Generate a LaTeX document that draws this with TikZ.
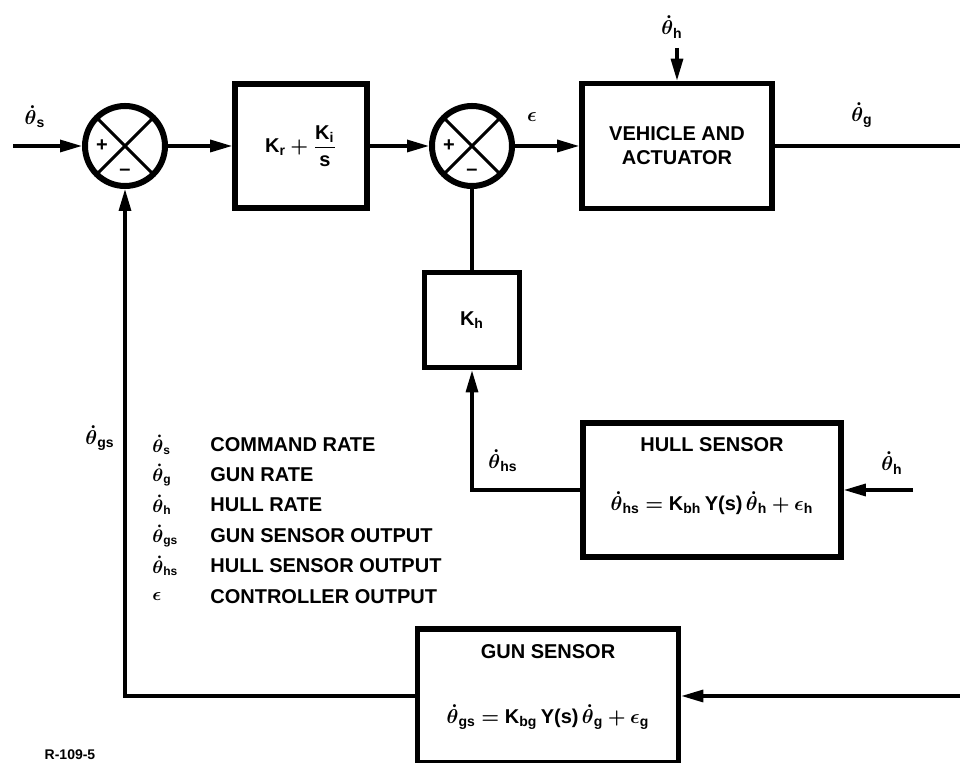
\documentclass[tikz,border=0pt]{standalone}
\usepackage{amsmath}
\usepackage{fontspec}
\setmainfont{Liberation Sans}
\usepackage{tikz}
\usetikzlibrary{arrows.meta,shapes,positioning,calc}

\newcommand{\thd}[1]{$\boldsymbol{\dot{\theta}}_{\textbf{#1}}$}
\newcommand{\eps}{$\boldsymbol{\epsilon}$}

\begin{document}
\begin{tikzpicture}[
    x=0.5pt, y=-0.5pt,
    >={Triangle[length=11pt,width=6pt]},
    block/.style={draw, rectangle, line width=2.8pt,
        align=center, inner sep=0pt,
        font=\bfseries},
    sumjn/.style={draw, circle, line width=3pt,
        minimum size=40pt, inner sep=0pt,
        path picture={
            \draw[line width=1.5pt]
                (path picture bounding box.north west) -- (path picture bounding box.south east)
                (path picture bounding box.north east) -- (path picture bounding box.south west);}},
    sgn/.style={font=\bfseries, inner sep=0pt},
    sig/.style={font=\bfseries, inner sep=0pt},
    key/.style={font=\bfseries, anchor=west, inner sep=0pt},
    keysym/.style={font=\bfseries\small, anchor=west, inner sep=0pt},
    conn/.style={line width=1.6pt},
    flow/.style={->, line width=1.6pt}
]
\useasboundingbox (0,0) rectangle (960,763);

% forward path
\node[sumjn] (s1) at (125,146) {};
\node[block, minimum width=66pt, minimum height=62pt] (pi) at (301,146)
    {$\textbf{K}_{\textbf{r}} \boldsymbol{+} \dfrac{\textbf{K}_{\textbf{i}}}{\textbf{s}}$};
\node[sumjn] (s2) at (472,146) {};
\node[block, minimum width=95pt, minimum height=62.5pt] (veh) at (677,146) {VEHICLE AND\\ACTUATOR};
\node[block, minimum size=47.5pt] (kh) at (472,320) {$\textbf{K}_{\textbf{h}}$};

% sensors
\node[block, minimum width=129pt, minimum height=67pt] (hull) at (712,490) {};
\node[sig] (hulltitle) at ([yshift=-12pt]hull.north) {HULL SENSOR};
\node[sig] (hulleq) at ([yshift=-6.5pt]hull.center)
    {$\boldsymbol{\dot{\theta}}_{\textbf{hs}} \boldsymbol{=} \textbf{K}_{\textbf{bh}}\,\textbf{Y(s)}\,\boldsymbol{\dot{\theta}}_{\textbf{h}} \boldsymbol{+} \boldsymbol{\epsilon}_{\textbf{h}}$};
\node[block, minimum width=130.5pt, minimum height=67pt] (gun) at (548,696) {};
\node[sig] (guntitle) at ([yshift=-12.5pt]gun.north) {GUN SENSOR};
\node[sig] (guneq) at ([yshift=-10.5pt]gun.center)
    {$\boldsymbol{\dot{\theta}}_{\textbf{gs}} \boldsymbol{=} \textbf{K}_{\textbf{bg}}\,\textbf{Y(s)}\,\boldsymbol{\dot{\theta}}_{\textbf{g}} \boldsymbol{+} \boldsymbol{\epsilon}_{\textbf{g}}$};

% signs in the junctions
\node[sgn] (p1) at ([xshift=-11.5pt]s1.center) {+};
\node[sgn] (m1) at ([yshift=-13pt]s1.center) {--};
\node[sgn] (p2) at ([xshift=-11.5pt]s2.center) {+};
\node[sgn] (m2) at ([yshift=-13pt]s2.center) {--};

% free ends
\coordinate (cmd) at (13,146);
\coordinate (hulltop) at (677,48);
\coordinate (out) at (960,146);
\coordinate (hullin) at (913,490);
\coordinate (gunin) at (960,696);

\draw[flow] (cmd) -- (s1);
\draw[flow] (s1) -- (pi);
\draw[flow] (pi) -- (s2);
\draw[flow] (s2) -- (veh);
\draw[flow] (hulltop) -- (veh);
\draw[conn] (veh) -- (out);
\draw[conn] (s2) -- (kh);
\draw[flow] (hull.west) -| (kh.south);
\draw[flow] (hullin) -- (hull.east);
\draw[flow] (gunin) -- (gun.east);
\draw[flow] (gun.west) -| (s1.south);

% signal labels
\node[sig] (lths) at (35,117) {\thd{s}};
\node[sig] (leps) at (532,117) {\eps};
\node[sig] (lthh) at (672,27) {\thd{h}};
\node[sig] (lthg) at (862,115) {\thd{g}};
\node[sig] (lthhs) at (503,461) {\thd{hs}};
\node[sig] (lthhin) at (892,463) {\thd{h}};
\node[sig] (lthgs) at (100,438) {\thd{gs}};

% legend
\node[keysym] (k1) at (152,445) {\thd{s}};
\node[key] (t1) at (210,445) {COMMAND RATE};
\node[keysym] (k2) at (152,475) {\thd{g}};
\node[key] (t2) at (210,475) {GUN RATE};
\node[keysym] (k3) at (152,505) {\thd{h}};
\node[key] (t3) at (210,505) {HULL RATE};
\node[keysym] (k4) at (152,536) {\thd{gs}};
\node[key] (t4) at (210,536) {GUN SENSOR OUTPUT};
\node[keysym] (k5) at (152,566) {\thd{hs}};
\node[key] (t5) at (210,566) {HULL SENSOR OUTPUT};
\node[keysym] (k6) at (152,597) {\eps};
\node[key] (t6) at (210,597) {CONTROLLER OUTPUT};

\node[font=\bfseries\scriptsize] (fig) at (70,755) {R-109-5};
\end{tikzpicture}
\end{document}
